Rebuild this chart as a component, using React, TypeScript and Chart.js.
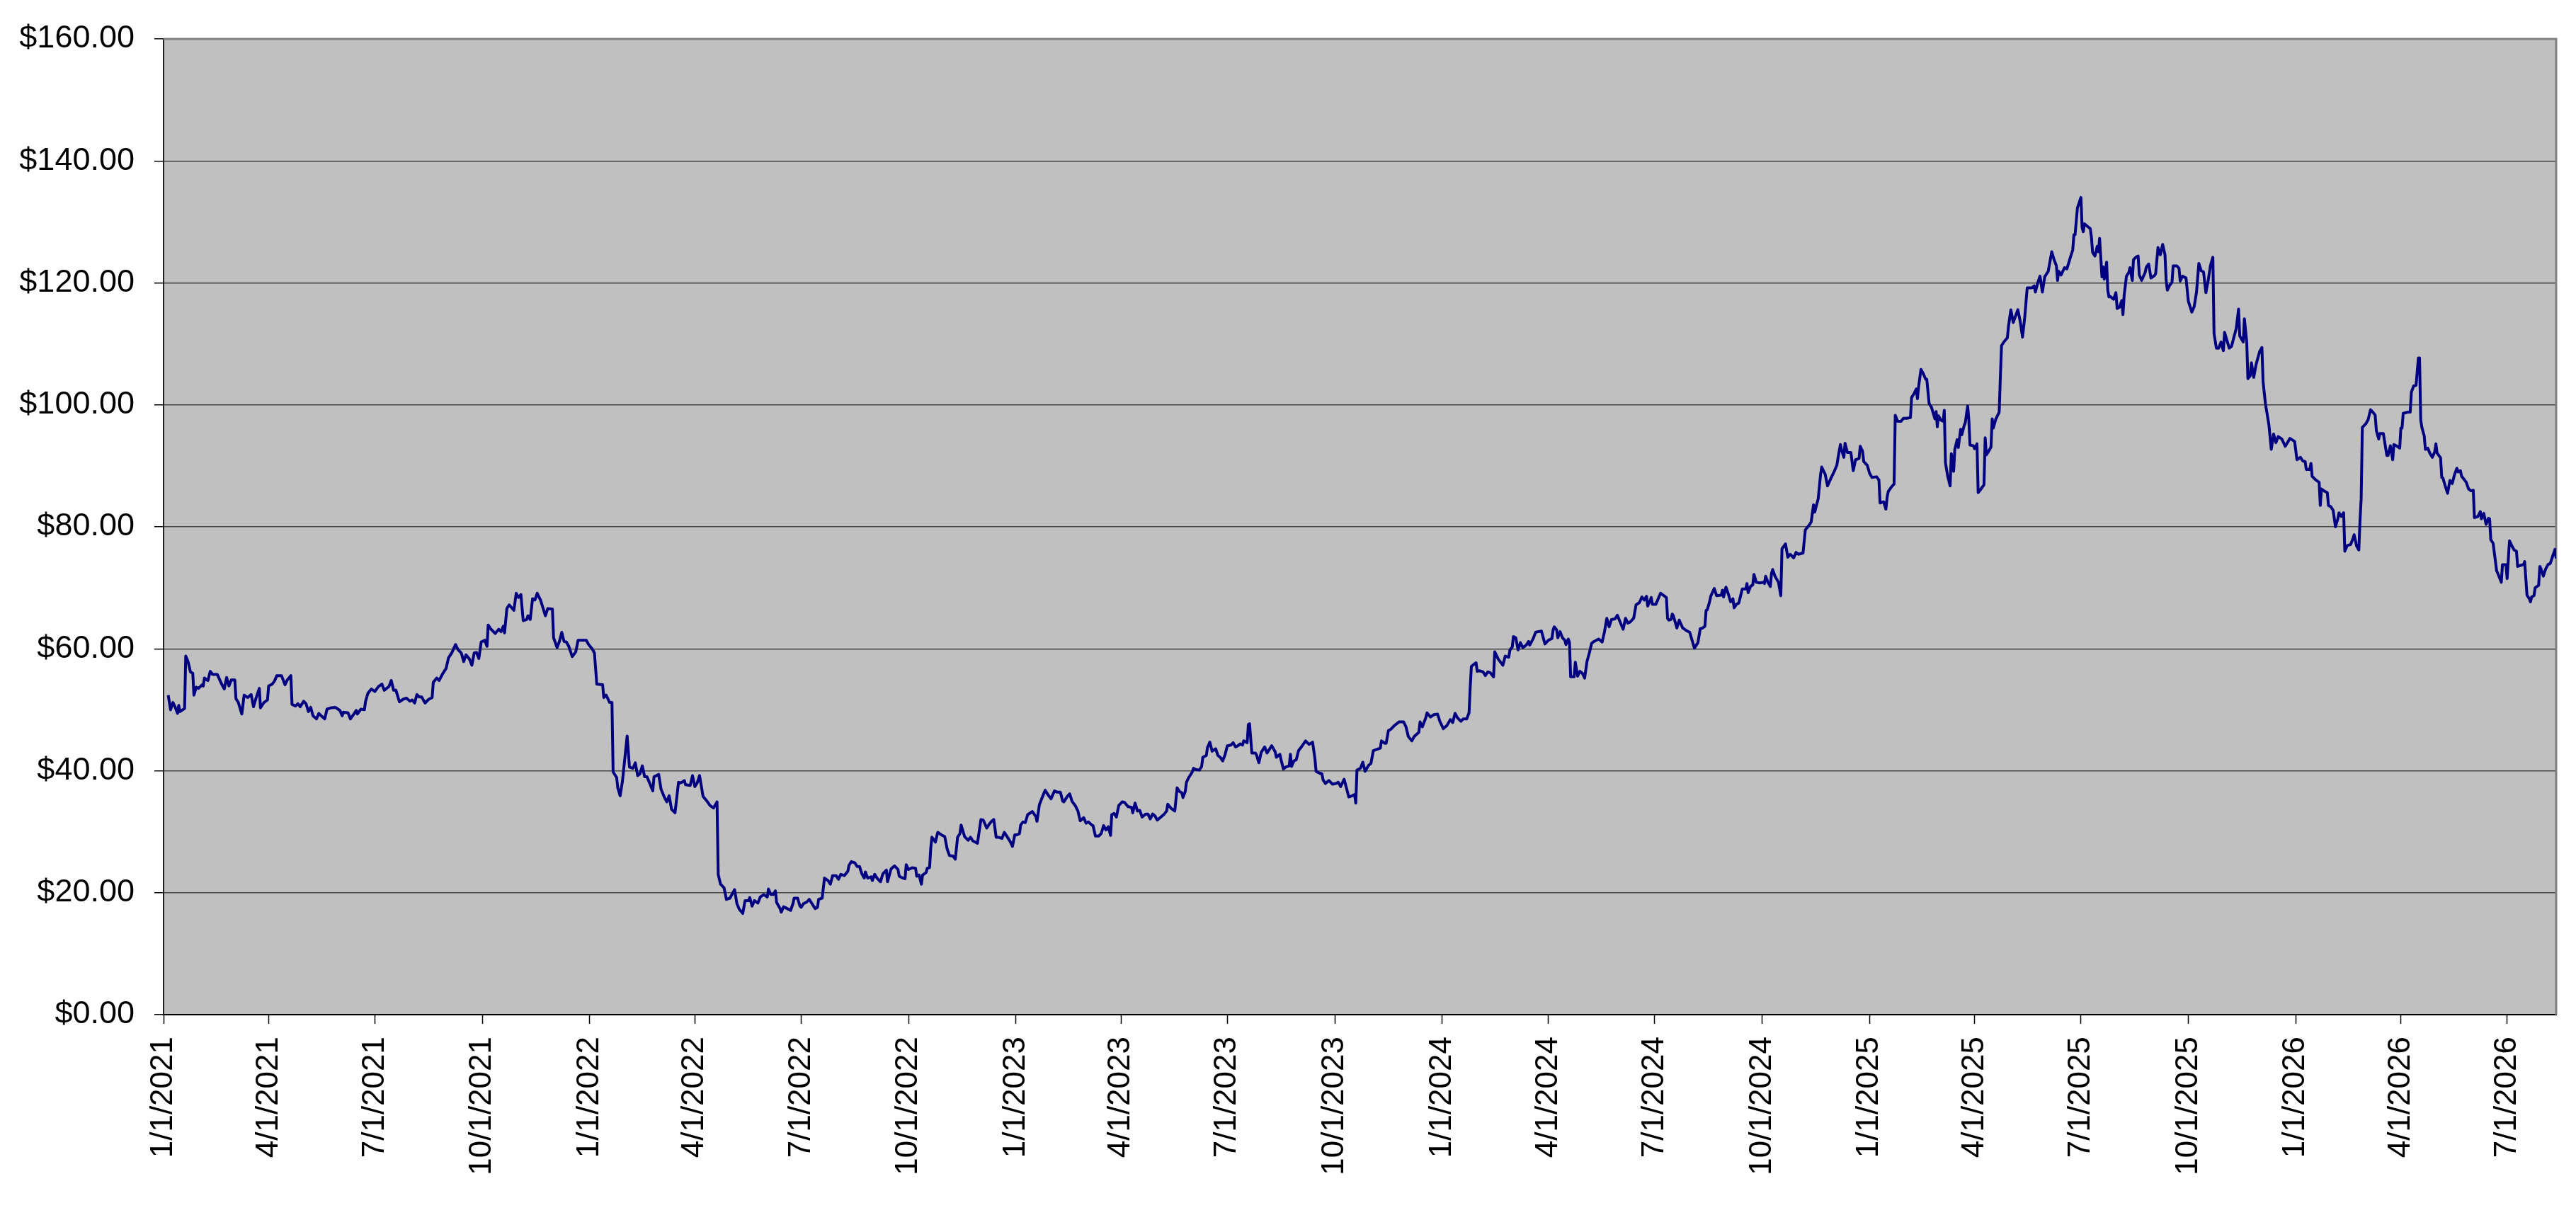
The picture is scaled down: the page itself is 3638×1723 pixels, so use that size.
import { useEffect, useRef } from "react";
import { Chart, registerables } from "chart.js";

Chart.register(...registerables);

// x values are calendar days counted from 1/1/2021
const START_UTC = Date.UTC(2021, 0, 1);

const quarterLabels = [
  "1/1/2021", "4/1/2021", "7/1/2021", "10/1/2021",
  "1/1/2022", "4/1/2022", "7/1/2022", "10/1/2022",
  "1/1/2023", "4/1/2023", "7/1/2023", "10/1/2023",
  "1/1/2024", "4/1/2024", "7/1/2024", "10/1/2024",
  "1/1/2025", "4/1/2025", "7/1/2025", "10/1/2025",
  "1/1/2026", "4/1/2026", "7/1/2026",
];

const priceTicks = [0, 20, 40, 60, 80, 100, 120, 140, 160];

const tradeDays = [
  // 2021
  4, 6, 8, 10, 12, 13, 14, 18, 19, 21,
  23, 25, 26, 28, 30, 33, 34, 35, 37, 38,
  40, 42, 46, 50, 52, 54, 56, 58, 61, 62,
  64, 67, 69, 72, 75, 77, 79, 82, 83, 86,
  89, 90, 93, 95, 97, 101, 104, 106, 109, 110,
  113, 115, 117, 120, 122, 124, 126, 128, 131, 133,
  135, 138, 140, 143, 147, 151, 153, 154, 158, 160,
  163, 165, 166, 169, 172, 173, 175, 178, 181, 184,
  187, 189, 193, 195, 197, 199, 202, 205, 208, 211,
  213, 215, 217, 219, 221, 224, 227, 230, 231, 234,
  236, 239, 242, 244, 247, 250, 252, 255, 257,
  259, 262, 264, 266, 268, 270, 272, 275, 277, 278,
  280, 284, 287, 289, 291, 292, 294, 296, 300, 302,
  304, 306, 308, 311, 312, 314, 316, 318, 320, 323,
  327, 329, 333, 334, 337, 339, 341, 343, 345, 347,
  350, 353, 355, 359, 362, 364, 367, 369, 370, 371,
  // 2022
  376, 377, 379, 382, 384, 385, 388, 389, 391, 393,
  397, 399, 402, 404, 406, 408, 410, 412, 414, 416,
  419, 420, 424, 426, 429, 431, 433, 435, 438, 441,
  443, 446, 447, 451, 453, 455, 457, 459, 462, 465,
  468, 471, 474, 475, 477, 480, 482, 485, 489, 491,
  493, 496, 498, 501, 502, 504, 506, 509, 511, 514,
  517, 518, 520, 522, 524, 525, 528, 529, 531, 534,
  537, 539, 540, 543, 545, 546, 548, 551, 553, 556,
  558, 560, 561, 564, 566, 569, 571, 573, 576, 578,
  580, 583, 586, 587, 589, 592, 594, 596, 598, 600,
  601, 603, 606, 607, 609, 611, 614, 616, 619, 620,
  623, 626, 629, 630, 633, 635, 636, 638, 641, 644,
  645, 647, 649, 650, 653, 654, 656, 657, 658, 661,
  663, 666, 669, 671, 673, 676, 678, 680, 682, 683,
  686, 689, 691, 693, 697, 700, 702, 705, 707, 709,
  711, 713, 715, 718, 720, 722, 725, 727, 729, 731,
  // 2023
  733, 734, 736, 738, 740, 744, 747, 748, 750, 752,
  755, 758, 760, 763, 765, 768, 770,
  771, 774, 776, 778, 781, 783, 785, 788, 790, 792,
  795, 796, 798, 801, 803, 805, 807, 809, 811, 812,
  814, 816, 818, 821, 823, 826, 829, 830, 832, 834,
  836, 838, 841, 843, 845, 847, 849, 851, 854, 857,
  859, 860, 863, 866, 868, 870, 872, 873, 875, 876,
  878, 881, 882, 884, 887, 889, 890, 893, 894, 896,
  898, 901, 903, 905, 907, 909, 911, 914, 916, 918,
  920, 922, 924, 925, 928, 929, 930, 932, 935, 936,
  938, 940, 943, 945, 947, 949, 952, 953, 956, 957,
  959, 961, 964, 965, 966, 968, 970, 972, 974, 978,
  981, 984, 986, 987, 990, 992, 993, 995, 998, 1001,
  1004, 1006, 1008, 1011, 1012, 1015, 1018, 1020, 1021, 1022,
  1025, 1027,
  1029, 1032, 1034, 1036, 1039, 1042, 1043, 1046, 1047, 1049,
  1051, 1054, 1058, 1062, 1064, 1066, 1069, 1071, 1075, 1076,
  1078, 1081, 1082, 1085, 1088, 1091, 1093,
  // 2024
  1096, 1099, 1102,
  1104, 1106, 1108, 1111, 1113, 1116, 1118, 1119, 1120, 1123,
  1124, 1125, 1127, 1130, 1132, 1134, 1136, 1139, 1140, 1143,
  1147, 1149, 1152, 1153, 1155, 1156, 1158, 1160, 1162, 1164,
  1167, 1169, 1170, 1173, 1175, 1177, 1180, 1183, 1186, 1189,
  1190, 1191, 1193, 1194, 1196, 1198, 1200, 1201, 1203, 1204,
  1205, 1208, 1209, 1211, 1213, 1215, 1217, 1219, 1221, 1223,
  1225, 1229, 1232, 1234, 1236, 1238, 1240, 1243, 1245, 1248,
  1250, 1252, 1254, 1256, 1259, 1261, 1264, 1266, 1268, 1270,
  1271, 1274, 1275, 1278, 1282, 1285, 1287,
  1288, 1289, 1291, 1292, 1293, 1296, 1298, 1301, 1304, 1307,
  1309, 1311, 1314, 1316, 1318, 1320, 1321, 1322, 1324, 1325,
  1328, 1330, 1334, 1335, 1336, 1338, 1340, 1342, 1344, 1345,
  1347, 1349, 1352, 1355, 1356, 1357, 1359, 1361, 1362, 1364,
  1367, 1370, 1371, 1372, 1374, 1376, 1377, 1378, 1380, 1383,
  1385, 1386, 1389, 1391, 1393, 1396, 1398, 1400, 1404, 1406,
  1409, 1411, 1413, 1414, 1417, 1419, 1420, 1423, 1425, 1428,
  1431, 1433, 1434, 1436, 1437, 1439, 1440, 1442, 1445, 1447,
  1449, 1452, 1453, 1455, 1456, 1459,
  // 2025
  1461, 1463, 1467, 1469,
  1470, 1473, 1475, 1476, 1477, 1480, 1482, 1483, 1485, 1488,
  1490, 1493, 1496, 1497, 1499, 1501, 1502, 1503, 1505, 1507,
  1509, 1510, 1512, 1514, 1517, 1518, 1519, 1520, 1522, 1524,
  1525, 1526, 1528, 1530, 1531, 1533, 1534, 1536, 1537, 1539,
  1540, 1542, 1543,
  1545, 1546, 1547, 1550, 1551, 1553, 1554, 1556, 1559, 1560,
  1561, 1563, 1565, 1566, 1567, 1569, 1572, 1573, 1574, 1576,
  1579, 1580, 1582, 1584, 1588, 1590, 1592, 1594, 1596, 1600,
  1602, 1603, 1605, 1607, 1609, 1611, 1614, 1617, 1619, 1621,
  1622, 1623, 1625, 1628, 1630, 1633, 1635, 1636, 1637, 1639,
  1642, 1643, 1644, 1645, 1648, 1650, 1651, 1652, 1654, 1656,
  1657, 1658, 1660, 1661, 1662, 1664, 1665, 1666, 1667, 1670,
  1672, 1673, 1675, 1677, 1678, 1679, 1681, 1683, 1684, 1686,
  1687, 1689, 1691, 1692, 1694, 1697, 1698, 1700, 1702, 1705,
  1706, 1708, 1710, 1712, 1714, 1715, 1716, 1718, 1720, 1721,
  1724, 1726, 1727, 1729, 1732, 1734, 1737, 1739, 1741, 1743,
  1745, 1747, 1749, 1751, 1753, 1755, 1756, 1758, 1760, 1762,
  1764, 1765, 1769, 1771, 1773, 1775, 1777, 1778, 1781, 1782,
  1784, 1785, 1787, 1788, 1790, 1792, 1795, 1797, 1798, 1800,
  1803, 1805, 1807, 1809, 1811, 1814, 1817, 1821, 1825,
  // 2026
  1827,
  1830, 1832, 1834, 1835, 1838, 1839, 1840, 1843, 1846, 1847,
  1848, 1851, 1853, 1854, 1856, 1858, 1860, 1862, 1863, 1865,
  1867, 1868, 1870, 1873, 1875, 1876, 1878, 1880, 1881, 1882,
  1883, 1886, 1888, 1890, 1892, 1894, 1895, 1897, 1898, 1901,
  1902, 1904, 1905, 1907, 1909, 1910, 1912, 1915, 1916, 1917,
  1918, 1922, 1924, 1925, 1927, 1929, 1931, 1932, 1933, 1934,
  1936, 1937, 1939, 1941, 1943, 1945, 1946, 1947, 1950, 1951,
  1952, 1954, 1956, 1958, 1960, 1962, 1964, 1965, 1967, 1968,
  1970, 1972, 1974, 1976, 1978, 1979, 1982, 1984, 1985, 1987,
  1989, 1991, 1992, 1993, 1995, 1996, 1998, 2000, 2002, 2003,
  2006, 2007, 2009, 2011, 2013, 2015, 2016, 2019, 2021, 2022,
  2024, 2026, 2027, 2028, 2030, 2031, 2034, 2035, 2036, 2038,
  2040, 2042, 2044, 2046, 2048, 2049,
];

const closePrices = [
  // 2021
  52.4, 50.0, 51.2, 50.4, 49.4, 50.7, 49.7, 50.2, 58.8, 57.9,
  56.2, 56.0, 52.4, 53.7, 53.5, 54.1, 53.9, 55.2, 54.9, 54.8,
  56.3, 55.8, 55.8, 54.1, 53.4, 55.3, 53.9, 54.9, 54.9, 51.8,
  51.2, 49.3, 52.4, 52.0, 52.5, 50.5, 51.8, 53.5, 50.3, 51.2,
  51.6, 53.9, 54.2, 54.7, 55.6, 55.6, 54.1, 54.9, 55.6, 50.9,
  50.6, 51.0, 50.5, 51.4, 51.0, 49.7, 50.4, 49.0, 48.5, 49.4,
  49.0, 48.5, 50.1, 50.3, 50.4, 49.9, 49.0, 49.6, 49.5, 48.5,
  49.3, 49.9, 49.3, 50.1, 50.0, 51.4, 52.7, 53.4, 53.0, 53.8,
  54.2, 53.2, 53.8, 54.8, 53.2, 53.2, 51.3, 51.7, 51.9, 51.4,
  51.6, 51.1, 52.5, 52.1, 52.1, 51.1, 51.7, 52.0, 54.5, 55.2,
  54.8, 55.9, 56.8, 58.5, 59.4, 60.7, 59.9, 59.3, 57.9,
  59.0, 58.3, 57.3, 59.3, 59.4, 58.4, 61.1, 61.4, 60.4, 63.9,
  63.3, 62.5, 63.2, 62.8, 63.7, 62.6, 66.6, 67.2, 66.3, 69.1,
  68.4, 68.9, 64.6, 64.8, 65.4, 64.8, 68.2, 68.0, 69.1, 67.9,
  65.4, 66.6, 66.5, 61.8, 60.2, 61.2, 62.7, 61.2, 61.1, 60.4,
  58.7, 59.5, 61.4, 61.4, 61.4, 60.7, 60.0, 59.3, 56.8, 54.2,
  // 2022
  54.1, 52.0, 52.4, 51.2, 51.2, 39.8, 38.9, 37.2, 35.9, 38.3,
  45.7, 40.6, 40.4, 41.3, 39.2, 39.5, 40.8, 39.0, 39.0, 38.1,
  36.7, 39.0, 39.4, 37.0, 35.6, 34.9, 35.9, 33.7, 33.1, 38.1,
  38.0, 38.4, 37.7, 37.6, 39.2, 37.4, 38.0, 39.2, 35.8, 35.1,
  34.3, 33.9, 34.9, 23.0, 21.4, 20.8, 18.9, 19.1, 20.5, 18.2,
  17.3, 16.6, 18.7, 18.7, 19.2, 17.8, 18.7, 18.3, 19.3, 19.7,
  19.3, 20.6, 19.7, 19.7, 20.3, 18.4, 17.4, 16.8, 17.7, 17.4,
  17.1, 18.2, 19.1, 19.1, 17.8, 17.6, 18.2, 18.5, 18.9, 18.0,
  17.4, 17.6, 18.9, 19.1, 22.4, 22.0, 21.4, 22.8, 22.8, 22.2,
  23.0, 22.8, 23.5, 24.5, 25.1, 24.9, 24.3, 24.3, 23.1, 22.4,
  23.4, 22.4, 22.6, 22.0, 23.0, 22.4, 21.8, 23.1, 23.7, 21.8,
  23.9, 24.4, 23.8, 22.7, 22.4, 22.3, 24.6, 23.8, 24.1, 24.0,
  22.7, 22.9, 21.4, 22.9, 23.3, 24.0, 24.1, 27.3, 29.1, 28.3,
  29.9, 29.5, 29.2, 27.2, 26.1, 26.0, 25.5, 29.1, 29.7, 31.1,
  29.2, 28.6, 29.1, 28.5, 28.1, 32.0, 31.9, 30.6, 31.2, 31.7,
  32.0, 29.1, 29.1, 28.9, 29.9, 29.3, 28.4, 27.6, 29.5, 29.5,
  // 2023
  29.7, 31.1, 31.6, 31.5, 32.8, 33.3, 32.5, 31.7, 34.4, 35.4,
  36.8, 35.9, 35.4, 36.7, 36.5, 36.5, 35.0,
  34.9, 35.8, 36.2, 35.0, 34.2, 33.4, 31.8, 32.3, 31.4, 31.6,
  31.1, 31.0, 29.3, 29.3, 29.7, 31.0, 30.3, 30.8, 29.4, 32.8,
  33.0, 32.4, 34.3, 34.9, 34.8, 34.1, 34.0, 33.1, 34.7, 33.4,
  33.5, 32.4, 32.9, 32.9, 32.1, 32.9, 32.6, 31.9, 32.4, 32.9,
  33.4, 34.5, 33.8, 33.4, 37.2, 36.6, 36.4, 35.6, 36.6, 38.1,
  38.9, 39.8, 40.4, 40.2, 40.1, 40.7, 42.2, 42.5, 43.8, 44.7,
  43.2, 43.6, 42.5, 42.2, 41.6, 42.6, 44.1, 44.2, 44.6, 43.9,
  44.1, 44.4, 44.2, 44.9, 44.6, 47.6, 47.7, 42.9, 42.9, 42.6,
  41.3, 43.0, 43.9, 42.9, 43.5, 44.1, 43.1, 42.2, 42.7, 41.8,
  40.3, 40.6, 40.8, 42.7, 40.7, 41.6, 41.8, 43.3, 43.8, 44.9,
  44.3, 44.7, 42.0, 39.9, 39.6, 39.5, 38.5, 37.9, 38.4, 37.8,
  37.9, 38.1, 37.4, 38.6, 37.9, 35.7, 35.9, 36.1, 34.7, 40.1,
  40.4, 41.4,
  39.9, 40.9, 41.2, 43.3, 43.5, 43.7, 44.9, 44.5, 44.5, 46.6,
  46.8, 47.4, 48.0, 48.0, 47.2, 45.6, 44.9, 45.6, 46.3, 48.0,
  47.2, 48.7, 49.5, 48.8, 49.2, 49.3, 48.1,
  // 2024
  46.9, 47.4, 48.4,
  47.9, 49.4, 48.7, 48.1, 48.5, 48.5, 49.5, 53.7, 57.1, 57.6,
  57.7, 56.3, 56.4, 56.2, 55.6, 56.2, 56.1, 55.4, 59.5, 58.3,
  57.3, 58.8, 58.6, 59.8, 60.3, 62.0, 61.8, 59.8, 61.0, 60.2,
  60.6, 61.2, 60.6, 61.7, 62.7, 62.8, 62.9, 60.8, 61.4, 61.7,
  63.1, 63.6, 63.1, 61.8, 62.8, 61.8, 61.4, 60.7, 61.6, 61.0,
  55.4, 55.4, 57.8, 55.5, 56.3, 56.0, 55.2, 57.9, 59.3, 60.9,
  61.2, 61.6, 61.1, 62.8, 65.0, 63.6, 64.8, 64.9, 65.5, 64.1,
  63.2, 65.0, 64.2, 64.4, 65.0, 67.2, 67.6, 68.5, 68.0, 68.6,
  67.0, 68.4, 67.3, 67.3, 69.1, 68.7, 68.4,
  65.0, 64.7, 64.8, 65.7, 65.4, 63.4, 64.7, 63.4, 63.0, 62.7,
  61.4, 60.1, 61.0, 63.3, 63.4, 63.7, 66.3, 66.4, 67.7, 68.6,
  69.9, 68.7, 68.8, 69.6, 68.5, 70.1, 69.0, 67.7, 68.2, 66.7,
  67.3, 67.5, 69.8, 69.8, 70.7, 69.2, 70.2, 70.5, 72.2, 70.9,
  70.8, 70.9, 70.7, 71.9, 70.9, 70.2, 72.3, 73.0, 71.9, 70.9,
  68.7, 76.4, 77.2, 75.0, 75.5, 74.9, 75.8, 75.5, 75.7, 79.5,
  80.2, 80.8, 83.6, 82.4, 84.6, 88.5, 89.8, 88.6, 86.7, 88.0,
  89.2, 90.1, 91.3, 93.5, 92.6, 91.4, 93.7, 92.2, 92.2, 89.2,
  91.0, 91.2, 93.2, 92.4, 90.7, 90.1,
  // 2025
  88.8, 88.1, 88.2, 87.7,
  83.9, 84.1, 82.9, 84.8, 85.8, 86.6, 87.0, 98.3, 97.3, 97.3,
  97.8, 97.8, 97.9, 101.2, 101.8, 102.6, 101.0, 103.0, 105.8, 105.1,
  104.2, 104.2, 100.2, 99.6, 97.7, 98.9, 96.4, 98.2, 97.5, 97.3,
  99.1, 90.5, 88.2, 86.7, 92.0, 89.1, 92.7, 94.3, 93.0, 96.0,
  95.1, 96.6, 97.1,
  99.8, 97.6, 93.4, 93.3, 92.8, 93.6, 85.6, 86.1, 86.9, 94.6,
  91.8, 92.4, 93.1, 97.7, 96.2, 97.6, 98.8, 104.5, 109.7, 110.3,
  111.0, 112.9, 115.6, 113.5, 115.6, 113.7, 111.1, 114.6, 119.2, 119.2,
  119.5, 118.5, 120.0, 121.1, 118.5, 121.0, 121.9, 125.1, 123.8, 122.8,
  120.4, 121.9, 121.3, 122.5, 122.3, 124.2, 125.4, 127.9, 127.9, 132.3,
  134.0, 129.1, 128.4, 129.7, 129.2, 128.9, 127.5, 125.0, 124.4, 126.0,
  125.1, 127.3, 121.0, 122.6, 120.6, 123.4, 118.8, 117.7, 117.8, 117.3,
  118.4, 115.8, 116.0, 117.1, 114.8, 117.9, 121.1, 121.7, 122.5, 120.4,
  123.8, 124.2, 124.4, 121.3, 120.4, 121.7, 122.6, 123.1, 120.8, 121.2,
  121.5, 125.8, 124.6, 126.3, 124.6, 120.4, 118.8, 119.6, 120.1, 122.8,
  122.8, 122.4, 120.3, 121.1, 120.8, 117.0, 115.2, 116.1, 118.5, 123.2,
  122.0, 121.8, 118.4, 120.4, 122.9, 124.2, 111.7, 109.3, 109.3, 110.3,
  108.9, 111.9, 109.3, 109.6, 111.1, 112.5, 115.7, 111.3, 110.3, 114.1,
  110.3, 104.3, 104.8, 106.9, 104.5, 106.6, 108.7, 109.4, 103.8, 100.2,
  96.7, 92.7, 95.2, 93.8, 94.8, 94.4, 93.2, 94.5, 94.0,
  // 2026
  91.0,
  91.4, 90.8, 90.7, 89.4, 89.4, 90.4, 88.3, 87.7, 87.3, 83.5,
  86.2, 85.8, 85.6, 83.5, 83.3, 82.7, 80.0, 81.3, 82.3, 81.7,
  82.3, 76.0, 76.9, 77.1, 78.1, 78.7, 76.9, 76.2, 81.0, 84.6,
  96.3, 96.9, 97.6, 99.2, 98.8, 98.3, 95.8, 94.4, 95.3, 95.3,
  94.1, 91.7, 91.7, 93.3, 91.0, 93.5, 93.3, 92.9, 96.2, 96.2,
  98.6, 98.8, 98.8, 102.1, 103.1, 103.2, 107.7, 107.7, 97.5, 96.3,
  94.9, 92.7, 92.9, 92.0, 91.4, 92.3, 93.6, 92.1, 91.3, 88.1,
  88.0, 86.7, 85.5, 87.6, 87.1, 88.6, 89.6, 89.0, 89.2, 88.3,
  87.8, 87.3, 86.2, 85.9, 86.0, 81.5, 81.7, 82.5, 81.3, 82.2,
  80.4, 81.4, 81.3, 77.9, 77.3, 75.8, 72.8, 71.9, 70.9, 73.8,
  73.8, 71.5, 77.7, 76.9, 76.2, 76.0, 73.5, 73.7, 73.8, 74.3,
  68.8, 68.2, 67.7, 68.5, 68.7, 70.0, 70.4, 73.5, 73.1, 71.9,
  73.1, 73.8, 74.0, 75.2, 76.3, 74.8,
];

const dayOf = (label: string) => {
  const [m, d, y] = label.split("/").map(Number);
  return Math.round((Date.UTC(y, m - 1, d) - START_UTC) / 86400000);
};

const FONT = "'Liberation Sans', Arial, Helvetica, sans-serif";

const plotFrame = {
  id: "plotFrame",
  beforeDraw(chart: Chart) {
    const { ctx, chartArea } = chart;
    const { left, top, right, bottom } = chartArea;
    ctx.save();
    ctx.fillStyle = "#C0C0C0";
    ctx.fillRect(left, top, right - left, bottom - top);
    ctx.restore();
  },
  beforeDatasetsDraw(chart: Chart) {
    const { ctx, chartArea } = chart;
    const { left, top, right, bottom } = chartArea;
    ctx.save();
    ctx.strokeStyle = "#808080";
    ctx.lineWidth = 3;
    ctx.beginPath();
    ctx.moveTo(left, top);
    ctx.lineTo(right, top);
    ctx.lineTo(right, bottom);
    ctx.stroke();
    ctx.restore();
  },
};

export default function App() {
  const canvasRef = useRef<HTMLCanvasElement>(null);
  const chartRef = useRef<Chart | null>(null);

  useEffect(() => {
    if (!canvasRef.current) return;

    const n = Math.min(tradeDays.length, closePrices.length);
    const points = [];
    for (let i = 0; i < n; i++) points.push({ x: tradeDays[i], y: closePrices[i] });

    const labelByDay = new Map<number, string>();
    quarterLabels.forEach((l) => labelByDay.set(dayOf(l), l));

    chartRef.current?.destroy();
    chartRef.current = new Chart(canvasRef.current, {
      type: "line",
      data: {
        datasets: [
          {
            label: "Price",
            data: points,
            borderColor: "#000080",
            borderWidth: 4,
            borderJoinStyle: "round",
            pointRadius: 0,
            tension: 0,
            fill: false,
          },
        ],
      },
      options: {
        animation: false,
        responsive: true,
        maintainAspectRatio: false,
        events: [],
        layout: { padding: { top: 44, right: 28, left: 0, bottom: 0 } },
        plugins: { legend: { display: false }, tooltip: { enabled: false } },
        scales: {
          x: {
            type: "linear",
            min: 0,
            max: tradeDays[tradeDays.length - 1],
            afterBuildTicks: (scale: any) => {
              scale.ticks = quarterLabels.map((l) => ({ value: dayOf(l) }));
            },
            afterFit: (scale: any) => {
              scale.height = 290;
            },
            grid: {
              drawOnChartArea: false,
              drawTicks: true,
              tickLength: 13,
              tickColor: "#000",
              tickWidth: 1.5,
            },
            border: { display: true, color: "#000", width: 2 },
            ticks: {
              autoSkip: false,
              minRotation: 90,
              maxRotation: 90,
              padding: 18,
              color: "#000",
              font: { family: FONT, size: 44 },
              callback: (v: any) => labelByDay.get(Math.round(Number(v))) ?? "",
            },
          },
          y: {
            min: priceTicks[0],
            max: priceTicks[priceTicks.length - 1],
            afterBuildTicks: (scale: any) => {
              scale.ticks = priceTicks.map((v) => ({ value: v }));
            },
            afterFit: (scale: any) => {
              scale.width = 231;
            },
            grid: {
              color: "#444",
              lineWidth: 1.5,
              drawTicks: true,
              tickLength: 13,
              tickColor: "#000",
              tickWidth: 1.5,
            },
            border: { display: true, color: "#222", width: 2 },
            ticks: {
              padding: 28,
              color: "#000",
              font: { family: FONT, size: 45 },
              callback: (v: any) => "$" + Number(v).toFixed(2),
            },
          },
        },
      },
      plugins: [plotFrame],
    });

    return () => {
      chartRef.current?.destroy();
      chartRef.current = null;
    };
  }, []);

  return (
    <div style={{ position: "fixed", left: 0, top: 0, width: "100vw", height: "100vh", background: "#fff" }}>
      <canvas ref={canvasRef} />
    </div>
  );
}
